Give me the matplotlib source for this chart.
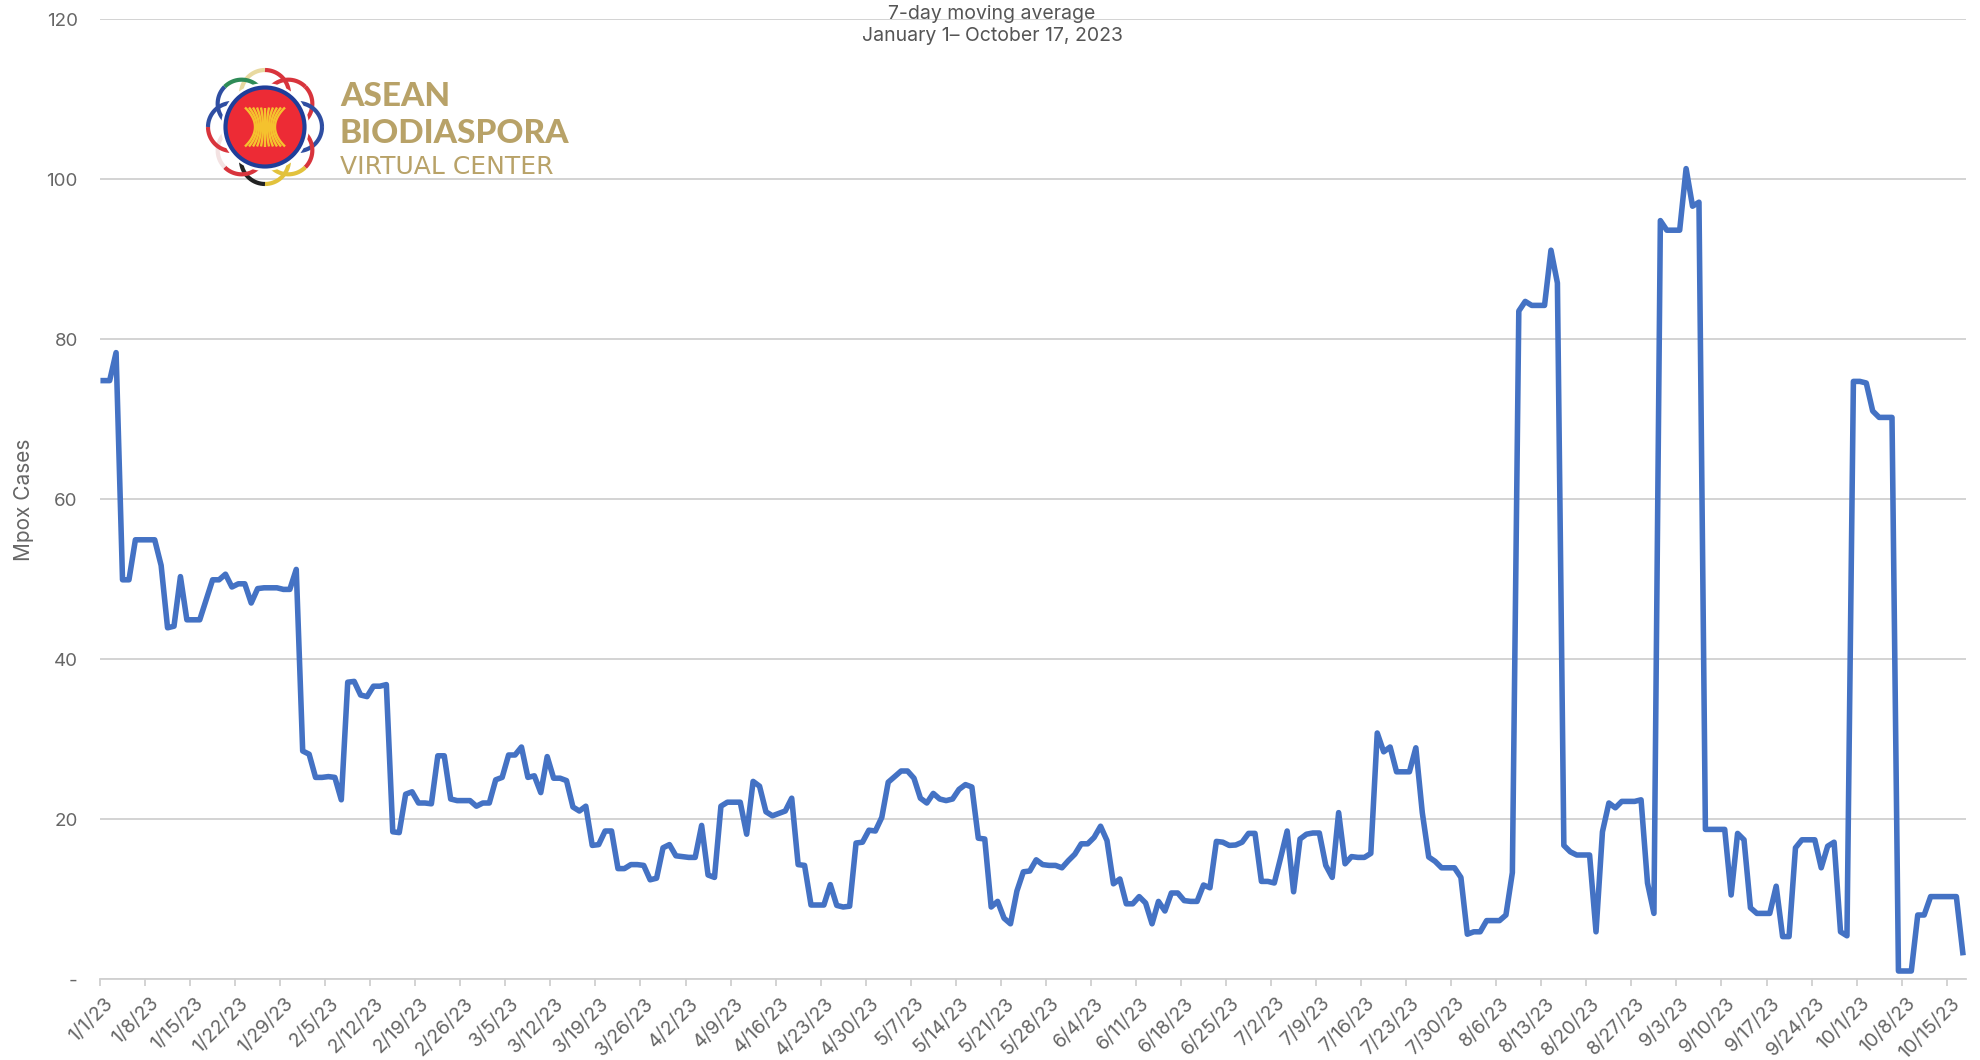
import matplotlib
matplotlib.use("Agg")
import matplotlib.pyplot as plt
import matplotlib.transforms as mtrans
import numpy as np
from matplotlib.patches import Circle

plt.rcParams['font.family'] = ['Inter', 'DejaVu Sans']

# Mpox cases, daily from 1/1/23
jan_feb = [74.8, 74.8, 78.3, 49.9, 49.9, 54.9, 54.9, 54.9, 54.9, 51.7,
           43.9, 44.1, 50.3, 44.9, 44.9, 44.9, 47.4, 49.9, 49.9, 50.6,
           49.0, 49.4, 49.4, 47.0, 48.8, 48.9, 48.9, 48.9, 48.7, 48.7,
           51.2, 28.5, 28.1, 25.2, 25.2, 25.3, 25.2, 22.4, 37.1, 37.2,
           35.5, 35.3, 36.6, 36.6, 36.8, 18.4, 18.3, 23.1, 23.4, 22.0,
           22.0, 21.9, 27.9, 27.9, 22.5, 22.3, 22.3, 22.3, 21.6, 22.0]
mar_may = [22.0, 24.9, 25.2, 28.0, 28.0, 29.0, 25.2, 25.4, 23.3, 27.8,
           25.1, 25.1, 24.8, 21.5, 21.0, 21.6, 16.7, 16.8, 18.5, 18.5,
           13.8, 13.8, 14.3, 14.3, 14.2, 12.4, 12.6, 16.4, 16.8, 15.4,
           15.3, 15.2, 15.2, 19.2, 13.0, 12.7, 21.6, 22.1, 22.1, 22.1,
           18.1, 24.7, 24.1, 20.9, 20.4, 20.7, 21.0, 22.6, 14.3, 14.2,
           9.25, 9.25, 9.25, 11.8, 9.2, 9.0, 9.1, 17.0, 17.1, 18.6,
           18.5, 20.2, 24.6, 25.3, 26.0, 26.0, 25.1, 22.6, 22.0, 23.2,
           22.5, 22.3, 22.5, 23.7, 24.3, 24.0, 17.6, 17.5]
may_jul = [9.0, 9.7, 7.6, 6.9, 11.0, 13.4, 13.5, 14.9, 14.3, 14.2,
           14.2, 13.9, 14.8, 15.6, 16.9, 16.9, 17.7, 19.1, 17.3, 11.9,
           12.5, 9.4, 9.4, 10.3, 9.5, 6.9, 9.7, 8.5, 10.75, 10.75,
           9.8, 9.7, 9.7, 11.75, 11.4, 17.2, 17.1, 16.7, 16.75, 17.1,
           18.2, 18.2, 12.2, 12.2, 12.0, 15.2, 18.5, 10.9, 17.5, 18.1,
           18.25, 18.25, 14.2, 12.7, 20.8, 14.4, 15.3, 15.2, 15.2, 15.7,
           30.75, 28.4, 29.0, 25.9, 25.9, 25.9, 28.9, 20.8, 15.25, 14.7,
           13.9, 13.9, 13.9]
aug_oct = [12.7, 5.6, 5.9, 5.9, 7.3, 7.3, 7.3, 8.0, 13.3, 83.5,
           84.7, 84.2, 84.2, 84.2, 91.1, 87.0, 16.7, 15.9, 15.5, 15.5,
           15.5, 5.9, 18.4, 22.0, 21.4, 22.2, 22.2, 22.2, 22.4, 12.0,
           8.2, 94.8, 93.6, 93.6, 93.6, 101.3, 96.6, 97.1, 18.7, 18.7,
           18.7, 18.7, 10.5, 18.2, 17.4, 8.9, 8.2, 8.2, 8.2, 11.6,
           5.3, 5.3, 16.4, 17.4, 17.4, 17.4, 13.9, 16.6, 17.1, 5.9,
           5.4, 74.7, 74.7, 74.5, 71.0, 70.2, 70.2, 70.2, 1.0, 1.0,
           1.0, 8.0, 8.0, 10.3, 10.3, 10.3, 10.3, 10.3, 3.3]
cases = jan_feb + mar_may + may_jul + aug_oct

week_labels = ["1/1/23", "1/8/23", "1/15/23", "1/22/23", "1/29/23", "2/5/23", "2/12/23",
               "2/19/23", "2/26/23", "3/5/23", "3/12/23", "3/19/23", "3/26/23", "4/2/23",
               "4/9/23", "4/16/23", "4/23/23", "4/30/23", "5/7/23", "5/14/23", "5/21/23",
               "5/28/23", "6/4/23", "6/11/23", "6/18/23", "6/25/23", "7/2/23", "7/9/23",
               "7/16/23", "7/23/23", "7/30/23", "8/6/23", "8/13/23", "8/20/23", "8/27/23",
               "9/3/23", "9/10/23", "9/17/23", "9/24/23", "10/1/23", "10/8/23", "10/15/23"]
y_values = [0, 20, 40, 60, 80, 100, 120]
y_labels = ["-", "20", "40", "60", "80", "100", "120"]

W, H = 1981, 1060
GREY = "#666666"
GOLD = "#B8A268"

figure = plt.figure(figsize=(W / 100, H / 100), dpi=100)
ax = figure.add_axes([100 / W, 1 - 979 / H, 1866 / W, 960 / H])

x = np.arange(len(cases))
ax.plot(x, cases, color="#4472C4", linewidth=4.0, solid_joinstyle="round", zorder=3)

ax.set_xlim(-0.5, len(cases) - 0.5)
ax.set_ylim(0, 120)
ax.set_xticks(np.arange(len(week_labels)) * 7 - 0.5)
ax.set_xticklabels(week_labels, rotation=45, ha="right", rotation_mode="anchor")
ax.set_yticks(y_values)
ax.set_yticklabels(y_labels)
ax.tick_params(axis="x", length=5, width=1.3, color="#D0D0D0", labelsize=14, labelcolor=GREY, pad=6)
ax.tick_params(axis="y", length=0, labelsize=13.5, labelcolor=GREY, pad=16)
# labels end a little right of their ticks
shift = mtrans.ScaledTranslation(3 / 72, 0, figure.dpi_scale_trans)
for label in ax.get_xticklabels():
    label.set_transform(label.get_transform() + shift)
ax.grid(axis="y", color="#D0D0D0", linewidth=1.3, zorder=1)
ax.set_axisbelow(True)
for side in ["top", "right", "left"]:
    ax.spines[side].set_visible(False)
ax.spines["bottom"].set_color("#D0D0D0")
ax.spines["bottom"].set_linewidth(1.3)

figure.text(24 / W, 1 - 500 / H, "Mpox Cases", rotation=90, ha="center", va="center",
            fontsize=15, color=GREY)
figure.text(992 / W, 1 - 14 / H, "7-day moving average", ha="center", va="center",
            fontsize=14, color="#555555")
figure.text(992 / W, 1 - 36 / H, "January 1\u2013 October 17, 2023", ha="center", va="center",
            fontsize=14, color="#555555")

# logo, drawn in pixel coords
logo = figure.add_axes([0, 0, 1, 1], zorder=5)
logo.set_xlim(0, W)
logo.set_ylim(H, 0)
logo.axis("off")
logo.patch.set_alpha(0)

cx, cy = 265, 127
# clockwise from the top, two flag colours per lobe
lobe_colors = [("#E8D9A0", "#D8343C"), ("#D8343C", "#D8343C"), ("#2F4EA2", "#2F4EA2"), ("#D8343C", "#E2C23C"),
               ("#E2C23C", "#222222"), ("#D8343C", "#F3E2E2"), ("#D8343C", "#2F4EA2"), ("#2F4EA2", "#2E8B57")]
for i, cols in enumerate(lobe_colors):
    a = np.pi / 2 - i * np.pi / 4
    px, py = cx + 33 * np.cos(a), cy - 33 * np.sin(a)
    s = np.linspace(0, 2 * np.pi, 60)
    logo.plot(px + 24 * np.cos(s), py + 24 * np.sin(s), color="#B8BCCB", linewidth=0.8, zorder=2)
    s = np.linspace(a + 1.7, a, 20)
    logo.plot(px + 24 * np.cos(s), py - 24 * np.sin(s), color=cols[0], linewidth=3, solid_capstyle="butt", zorder=2)
    s = np.linspace(a, a - 1.7, 20)
    logo.plot(px + 24 * np.cos(s), py - 24 * np.sin(s), color=cols[1], linewidth=3, solid_capstyle="butt", zorder=2)
logo.add_patch(Circle((cx, cy), 44, facecolor="white", edgecolor="none", zorder=3))
logo.add_patch(Circle((cx, cy), 39.5, facecolor="#ED2B35", edgecolor="#1F3E9A", linewidth=3, zorder=4))
t = np.linspace(-1, 1, 30)
for k in np.linspace(-1, 1, 11):
    logo.plot(cx + k * (10 + 10 * np.abs(t) ** 2), cy + 19.5 * t, color="#F5C22E",
              linewidth=1.7, solid_capstyle="butt", zorder=5)

logo.text(340, 106, "ASEAN", color=GOLD, fontsize=24, fontweight="black", family="Lato",
          ha="left", va="baseline")
logo.text(340, 143, "BIODIASPORA", color=GOLD, fontsize=24, fontweight="black", family="Lato",
          ha="left", va="baseline")
logo.text(340, 174, "VIRTUAL CENTER", color=GOLD, fontsize=18, family="DejaVu Sans",
          ha="left", va="baseline")

figure.savefig("out.png", dpi=100)
